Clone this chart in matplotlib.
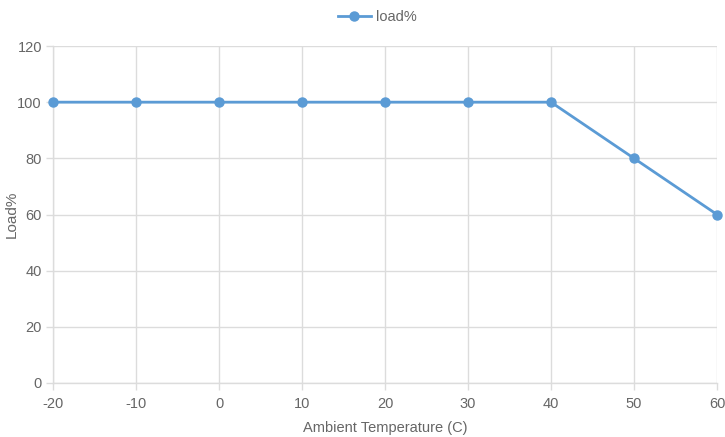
import matplotlib
matplotlib.use('Agg')
import matplotlib.pyplot as plt
from matplotlib.lines import Line2D

# Derating curve: load % vs ambient temperature
TEMPS = [-20, -10, 0, 10, 20, 30, 40, 50, 60]
LOAD = [100, 100, 100, 100, 100, 100, 100, 80, 60]

LINE_COLOUR = '#5b9bd5'
GRID_COLOUR = '#dcdcdc'
TEXT_COLOUR = '#666666'

plt.rcParams['font.family'] = ['Liberation Sans', 'DejaVu Sans']
plt.rcParams['axes.unicode_minus'] = False

fig = plt.figure(figsize=(7.25, 4.37), dpi=100)
ax = fig.add_axes([53 / 725, 54 / 437, (717 - 53) / 725, (383 - 46) / 437])

ax.plot(TEMPS, LOAD, color=LINE_COLOUR, linewidth=2, marker='o', markersize=6.5,
        clip_on=False, zorder=3)

ax.set_xlim(-20, 60)
ax.set_ylim(0, 120)
ax.set_xticks(range(-20, 61, 10))
ax.set_yticks(range(0, 121, 20))

ax.grid(True, color=GRID_COLOUR, linewidth=1)
ax.set_axisbelow(True)
for side in ['top', 'right']:
    ax.spines[side].set_visible(False)
for side in ['left', 'bottom']:
    ax.spines[side].set_color(GRID_COLOUR)
    ax.spines[side].set_linewidth(1)

ax.tick_params(axis='both', colors=GRID_COLOUR, labelcolor=TEXT_COLOUR,
               labelsize=10.5, length=5, width=1)
ax.tick_params(axis='x', pad=5)
ax.tick_params(axis='y', pad=3)

ax.set_xlabel('Ambient Temperature (C)', color=TEXT_COLOUR, fontsize=10.5, labelpad=7)
ax.set_ylabel('Load%', color=TEXT_COLOUR, fontsize=11)
ax.yaxis.set_label_coords(-34 / 664, 0.5)

handle = Line2D([], [], color=LINE_COLOUR, linewidth=2, marker='o', markersize=6.5)
fig.legend([handle], ['load%'], loc='center', bbox_to_anchor=(0.52, 1 - 17 / 437),
           frameon=False, fontsize=10.5, labelcolor=TEXT_COLOUR,
           handlelength=2.3, handletextpad=0.3)

fig.savefig('out.png', dpi=100)
